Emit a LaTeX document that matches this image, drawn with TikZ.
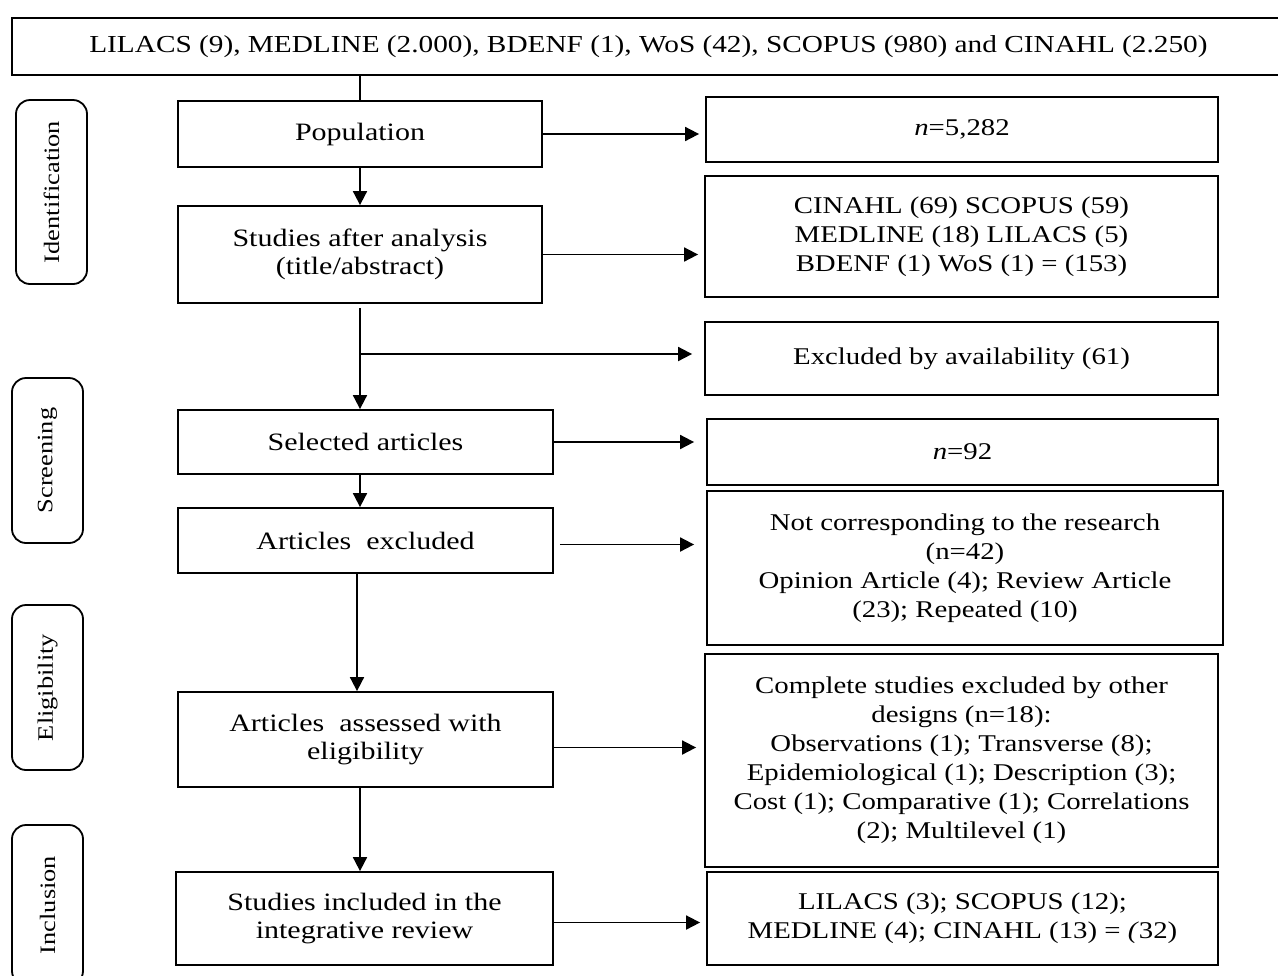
\documentclass[tikz,border=0pt]{standalone}
\usepackage{fontspec}
\setmainfont[FakeStretch=1.2]{Liberation Serif}
\usetikzlibrary{arrows.meta}
\tikzset{
  box/.style={draw, line width=0.9pt, align=center, inner sep=2pt,
    font=\fontsize{12}{14.5}\selectfont},
  leftbox/.style={box, font=\fontsize{12.5}{14}\selectfont},
  stagebox/.style={draw, rounded corners=7pt, line width=0.9pt, rotate=90,
    minimum height=35.5pt, font=\fontsize{11}{13}\selectfont},
  arr/.style={-{Triangle[width=7pt,length=7pt]}, line width=0.9pt},
  link/.style={line width=0.9pt},
}
\begin{document}
\begin{tikzpicture}[x=0.5pt,y=-0.5pt]
  \useasboundingbox (0,0) rectangle (1278,975);
  % sources
  \node[box, minimum width=636.5pt, minimum height=28.5pt] (src) at (648.5,46.5)
    {\fontsize{12.2}{15}\selectfont LILACS (9), MEDLINE (2.000), BDENF (1), WoS (42), SCOPUS (980) and CINAHL (2.250)};
  % stages
  \node[stagebox, minimum width=92pt] (ident) at (51.5,192) {Identification};
  \node[stagebox, minimum width=82.5pt] (screen) at (47.5,460.5) {Screening};
  \node[stagebox, minimum width=82.5pt] (elig) at (47.5,687.5) {Eligibility};
  \node[stagebox, minimum width=80pt] (inclu) at (47.5,905) {Inclusion};
  % left column
  \node[leftbox, minimum width=182pt, minimum height=33pt] (pop) at (360,134) {Population};
  \node[leftbox, minimum width=182pt, minimum height=48.5pt] (stud) at (360,254.5) {Studies after analysis\\(title/abstract)};
  \node[leftbox, minimum width=187.5pt, minimum height=32pt] (sel) at (365.5,442) {Selected articles};
  \node[leftbox, minimum width=187.5pt, minimum height=32.5pt] (excl) at (365.5,540.5) {Articles\ \ excluded};
  \node[leftbox, minimum width=187.5pt, minimum height=47.5pt] (assess) at (365.5,739.5) {Articles\ \ assessed with\\eligibility};
  \node[leftbox, minimum width=188.5pt, minimum height=46.5pt] (incl) at (364.5,918.5) {Studies included in the\\integrative review};
  % right column
  \node[box, minimum width=256pt, minimum height=32.5pt] (n1) at (962,129.5) {\textit{n}=5,282};
  \node[box, minimum width=256.5pt, minimum height=60.5pt] (db) at (961.5,236.5) {CINAHL (69) SCOPUS (59)\\MEDLINE (18) LILACS (5)\\BDENF (1) WoS (1) = (153)};
  \node[box, minimum width=256.5pt, minimum height=36.5pt] (avail) at (961.5,358.5) {Excluded by availability (61)};
  \node[box, minimum width=255.5pt, minimum height=33pt] (n2) at (962.5,452) {\textit{n}=92};
  \node[box, minimum width=258pt, minimum height=77pt] (notc) at (965,568) {Not corresponding to the research\\(n=42)\\Opinion Article (4); Review Article\\(23); Repeated (10)};
  \node[box, minimum width=256.5pt, minimum height=106.5pt] (compl) at (961.5,760.5) {Complete studies excluded by other\\designs (n=18):\\Observations (1); Transverse (8);\\Epidemiological (1); Description (3);\\Cost (1); Comparative (1); Correlations\\(2); Multilevel (1)};
  \node[box, minimum width=255.5pt, minimum height=46.5pt] (fin) at (962.5,918.5) {LILACS (3); SCOPUS (12);\\MEDLINE (4); CINAHL (13) = \textit{(}32)};
  \coordinate (br) at (360,354);
  % connectors
  \draw[link] (src.south -| pop.north) -- (pop.north);
  \draw[arr] (pop.south) -- (pop.south |- stud.north);
  \draw[arr] ([yshift=-2pt]stud.south) -- (stud.south |- sel.north);
  \draw[arr] (br) -- ([xshift=-6pt]br -| avail.west);
  \draw[arr] (sel.south -| pop.south) -- (pop.south |- excl.north);
  \draw[arr] (excl.south -| 357,0) -- (357,0 |- assess.north);
  \draw[arr] (assess.south -| pop.south) -- (pop.south |- incl.north);
  \draw[arr] (pop.east) -- ([xshift=-3pt]pop.east -| n1.west);
  \draw[arr] (stud.east) -- ([xshift=-3pt]stud.east -| db.west);
  \draw[arr] (sel.east) -- ([xshift=-6pt]sel.east -| n2.west);
  \draw[arr] ([xshift=3pt,yshift=-2pt]excl.east) -- ([xshift=-6pt,yshift=-2pt]excl.east -| notc.west);
  \draw[arr] ([yshift=-4pt]assess.east) -- ([xshift=-4pt,yshift=-4pt]assess.east -| compl.west);
  \draw[arr] ([yshift=-2pt]incl.east) -- ([xshift=-3pt,yshift=-2pt]incl.east -| fin.west);
\end{tikzpicture}
\end{document}
